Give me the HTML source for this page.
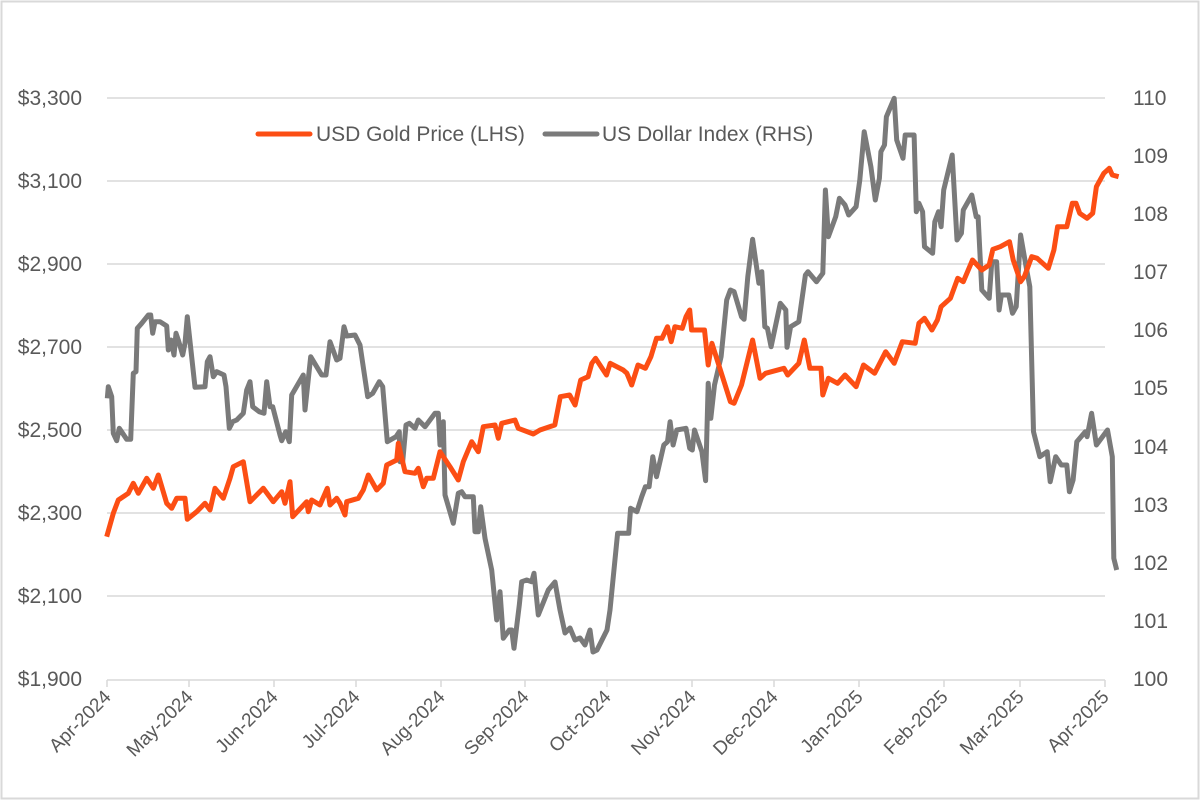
<!DOCTYPE html>
<html><head><meta charset="utf-8"><style>
html,body{margin:0;padding:0;background:#fff}
svg{display:block}
text{font-family:"Liberation Sans",sans-serif;fill:#595959}
</style></head><body>
<svg id="s" width="1200" height="801" viewBox="0 0 1200 801" xmlns="http://www.w3.org/2000/svg">
<rect x="1.5" y="1.5" width="1197" height="797" fill="#fff" stroke="#d9d9d9" stroke-width="2"/>
<g stroke="#d9d9d9" stroke-width="1.5">
<line x1="107" y1="98" x2="1105" y2="98"/><line x1="107" y1="181" x2="1105" y2="181"/>
<line x1="107" y1="264" x2="1105" y2="264"/><line x1="107" y1="347" x2="1105" y2="347"/>
<line x1="107" y1="430" x2="1105" y2="430"/><line x1="107" y1="513" x2="1105" y2="513"/>
<line x1="107" y1="596" x2="1105" y2="596"/><line x1="107" y1="680" x2="1105" y2="680"/>
</g>
<g id="ticks" stroke="#d9d9d9" stroke-width="1.5"></g>
<g font-size="21" text-anchor="end">
<text x="82" y="105">$3,300</text><text x="82" y="188">$3,100</text><text x="82" y="271">$2,900</text>
<text x="82" y="354">$2,700</text><text x="82" y="437">$2,500</text><text x="82" y="520">$2,300</text>
<text x="82" y="603">$2,100</text><text x="82" y="686">$1,900</text>
</g>
<g font-size="21" text-anchor="start">
<text x="1133" y="105">110</text><text x="1133" y="163">109</text><text x="1133" y="221">108</text>
<text x="1133" y="279">107</text><text x="1133" y="337">106</text><text x="1133" y="395">105</text>
<text x="1133" y="454">104</text><text x="1133" y="512">103</text><text x="1133" y="570">102</text>
<text x="1133" y="628">101</text><text x="1133" y="686">100</text>
</g>
<g id="xl" font-size="19" text-anchor="end"></g>
<polyline id="usd" fill="none" stroke="#7a7a7a" stroke-width="5" stroke-linejoin="round"/>
<polyline id="gold" fill="none" stroke="#fc4e14" stroke-width="5" stroke-linejoin="round"/>
<line x1="258" y1="134" x2="310" y2="134" stroke="#fc4e14" stroke-width="5" stroke-linecap="round"/>
<text x="316" y="141" font-size="21">USD Gold Price (LHS)</text>
<line x1="545" y1="134" x2="597" y2="134" stroke="#7a7a7a" stroke-width="5" stroke-linecap="round"/>
<text x="602" y="141" font-size="21">US Dollar Index (RHS)</text>
</svg>
<script>
var NS="http://www.w3.org/2000/svg";
var tx=[107,189,274,356,441,525,607,692,774,859,944,1020,1105];
var tg=document.getElementById('ticks');
tx.forEach(function(x){var l=document.createElementNS(NS,'line');l.setAttribute('x1',x);l.setAttribute('x2',x);l.setAttribute('y1',680);l.setAttribute('y2',687);tg.appendChild(l);});
function t1(a){return a.map(function(p){return (100+p[0]/3).toFixed(1)+','+(280+p[1]/3).toFixed(1)});}
function t2(a){return a.map(function(p){return (540+p[0]/2.705).toFixed(1)+','+(90+p[1]/3).toFixed(1)});}
var g1=[[20,770],[40,700],[55,660],[85,640],[100,610],[115,640],[140,595],[160,625],[175,585],[200,670],[215,685],[230,655],[255,655],[262,718],[290,695],[315,670],[330,690],[345,625],[370,655],[390,595],[400,560],[430,545],[450,665],[490,625],[520,665],[545,635],[555,670],[570,605],[578,710],[620,665],[625,695],[635,660],[660,675],[682,625],[690,675],[710,655],[720,670],[735,705],[740,665],[775,655],[790,630],[805,585],[830,630],[850,610],[860,555],[890,540],[895,490],[915,575],[945,580],[955,565],[970,620],[980,595],[1000,595],[1020,515],[1050,560],[1075,600],[1090,545],[1115,485],[1135,515],[1150,440],[1185,435],[1195,475],[1205,430],[1245,420],[1255,445],[1300,462]];
var g2=[[0,1020],[40,1005],[55,920],[80,915],[95,945],[110,870],[130,860],[140,820],[150,805],[180,855],[190,820],[225,840],[235,850],[248,885],[265,825],[285,835],[300,800],[315,745],[330,745],[345,710],[355,755],[365,710],[385,715],[395,680],[405,660],[410,720],[445,720],[455,825],[465,760],[515,935],[525,940],[545,885],[575,750],[595,865],[610,850],[660,835],[670,855],[700,820],[715,750],[730,835],[760,835],[765,915],[780,865],[805,880],[825,855],[855,890],[875,825],[905,850],[935,785],[958,820],[980,755],[1015,760],[1025,700],[1040,685],[1060,720],[1075,690],[1085,650],[1110,625],[1130,565],[1145,575],[1170,510],[1195,540],[1215,525],[1225,478],[1245,470],[1270,455],[1280,510],[1300,575],[1310,560],[1330,500],[1345,505],[1375,535],[1390,480],[1400,410],[1425,410],[1440,340],[1450,340],[1460,370],[1480,385],[1495,370],[1505,290],[1525,250],[1540,235],[1548,255],[1565,260]];
var d1=[[22,355],[25,320],[35,350],[40,460],[50,482],[58,445],[80,478],[92,478],[100,280],[108,275],[112,145],[125,130],[145,105],[152,105],[158,160],[165,125],[180,125],[200,138],[205,210],[213,180],[222,225],[228,160],[235,180],[248,225],[255,190],[262,110],[285,322],[315,320],[322,245],[330,230],[340,290],[350,275],[372,285],[378,320],[388,445],[398,425],[410,420],[430,400],[440,330],[450,305],[458,380],[478,395],[492,400],[500,305],[510,380],[518,380],[540,465],[545,482],[557,455],[568,485],[575,345],[610,285],[615,390],[632,230],[665,285],[678,285],[690,185],[710,240],[720,235],[732,140],[740,168],[765,165],[780,195],[803,350],[818,340],[838,305],[848,320],[862,485],[888,470],[898,455],[900,545],[908,545],[918,435],[928,430],[945,445],[955,420],[975,440],[1005,400],[1015,400],[1020,495],[1030,425],[1035,645],[1060,730],[1075,640],[1085,635],[1095,650],[1120,650],[1125,755],[1135,755],[1142,680],[1155,775],[1175,870],[1190,1020],[1200,935],[1210,1075],[1228,1050],[1235,1050],[1242,1105],[1258,975],[1265,905],[1280,900],[1295,905],[1302,880],[1315,1005],[1345,930]];
var dm=["555,582","560,610","565,633","570,628","575,640","580,638","585,645","590,630","593,652","597,650","602,640","607,630","610,610"];
var d2=[[210,1330],[240,1330],[245,1255],[262,1265],[275,1220],[285,1190],[295,1190],[305,1100],[315,1160],[335,1065],[345,1055],[352,995],[360,1065],[370,1020],[395,1015],[405,1075],[412,1080],[418,1020],[438,1085],[448,1172],[455,880],[462,985],[472,885],[490,800],[505,630],[515,600],[525,605],[545,680],[552,688],[562,560],[575,448],[592,580],[600,545],[608,710],[615,715],[625,770],[650,640],[665,660],[668,772],[678,710],[700,695],[718,555],[725,545],[748,575],[765,550],[772,300],[780,440],[800,380],[810,325],[825,345],[835,375],[855,350],[865,270],[877,125],[895,230],[907,330],[918,265],[922,185],[932,165],[937,80],[958,25],[965,150],[982,205],[988,135],[1012,135],[1018,365],[1025,340],[1035,365],[1040,470],[1062,490],[1068,395],[1078,365],[1085,410],[1092,300],[1115,195],[1128,450],[1140,430],[1145,360],[1168,315],[1180,380],[1185,380],[1195,600],[1215,625],[1222,515],[1235,515],[1242,660],[1248,615],[1268,615],[1278,670],[1288,650],[1300,435],[1315,530],[1325,590],[1335,1025],[1352,1100],[1372,1085],[1380,1175],[1395,1100],[1410,1125],[1425,1125],[1432,1205],[1442,1170],[1452,1055],[1475,1025],[1480,1040],[1492,970],[1505,1065],[1535,1020],[1548,1100],[1552,1405],[1560,1440]];
document.getElementById('gold').setAttribute('points',t1(g1).concat(t2(g2)).join(' '));
document.getElementById('usd').setAttribute('points',t1(d1).concat(dm).concat(t2(d2)).join(' '));
(function(){var names=["Apr-2024","May-2024","Jun-2024","Jul-2024","Aug-2024","Sep-2024","Oct-2024","Nov-2024","Dec-2024","Jan-2025","Feb-2025","Mar-2025","Apr-2025"];
var g=document.getElementById('xl');
names.forEach(function(n,i){var t=document.createElementNS(NS,'text');var x=tx[i]+5,y=698;t.setAttribute('x',x);t.setAttribute('y',y);t.setAttribute('transform','rotate(-45 '+x+' '+y+')');t.textContent=n;g.appendChild(t);});})();
</script>
</body></html>
